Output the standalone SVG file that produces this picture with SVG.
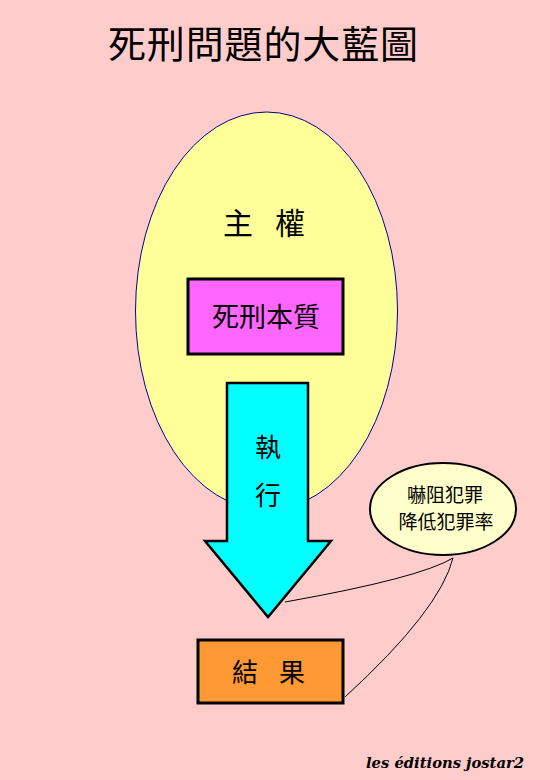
<svg xmlns="http://www.w3.org/2000/svg" width="550" height="780" viewBox="0 0 550 780">
<style>
.cjk{font-family:"Noto Sans CJK TC","Noto Sans CJK SC",sans-serif;fill:#000;text-anchor:middle}
.thick{stroke:#000;stroke-width:3}
.line{fill:none;stroke:#000;stroke-width:1}
</style>
<rect width="550" height="780" fill="#FFCCCC"/>
<text class="cjk" x="263" y="58" font-size="38" textLength="310" lengthAdjust="spacing">死刑問題的大藍圖</text>
<g id="sovereignty">
<ellipse cx="266.5" cy="311" rx="131" ry="199" fill="#FFFF99" stroke="#000099" stroke-width="1"/>
<text class="cjk" x="238" y="234" font-size="30">主</text>
<text class="cjk" x="290" y="234" font-size="30">權</text>
</g>
<g id="essence">
<rect x="188" y="279" width="155" height="75" fill="#FF66FF" class="thick"/>
<text class="cjk" x="266" y="327" font-size="27">死刑本質</text>
</g>
<g id="execute">
<polygon points="227,383 308,383 308,541 331,541 268,617 205,541 227,541" fill="#00FFFF" stroke="#000" stroke-width="2.5" stroke-linejoin="miter"/>
<text class="cjk" x="268" y="457" font-size="26">執</text>
<text class="cjk" x="268" y="505" font-size="26">行</text>
</g>
<g id="result">
<rect x="198" y="640" width="145" height="63" fill="#FF9933" class="thick"/>
<text class="cjk" x="245" y="682" font-size="26">結</text>
<text class="cjk" x="292" y="682" font-size="26">果</text>
</g>
<g id="deterrence">
<ellipse cx="443" cy="509" rx="73" ry="46" fill="#FFFFCC" stroke="#000" stroke-width="2"/>
<text class="cjk" x="445" y="502" font-size="19">嚇阻犯罪</text>
<text class="cjk" x="446" y="529" font-size="19">降低犯罪率</text>
</g>
<g id="connectors">
<path class="line" d="M453,558 Q420,578 285,602"/>
<path class="line" d="M453,558 Q440,610 345,697"/>
</g>
<text x="366" y="768" font-family="DejaVu Serif, serif" font-style="italic" font-weight="bold" font-size="15" textLength="158" lengthAdjust="spacingAndGlyphs" fill="#000">les éditions jostar2</text>
</svg>
